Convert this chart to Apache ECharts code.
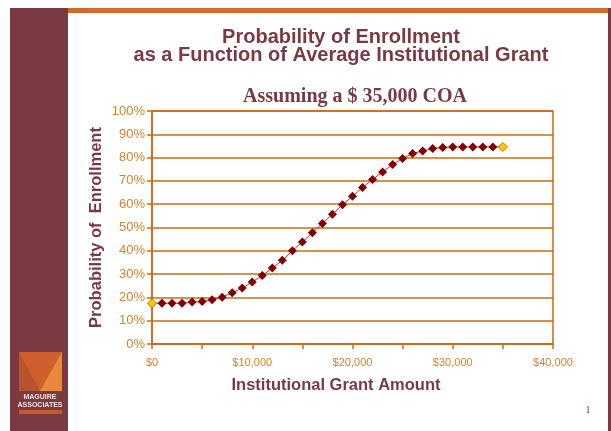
<!DOCTYPE html>
<html>
<head>
<meta charset="utf-8">
<script src="https://cdn.jsdelivr.net/npm/echarts@6/dist/echarts.min.js"></script>
<style>
  html, body { margin: 0; padding: 0; background: #ffffff; }
  #main { width: 611px; height: 431px; }
</style>
</head>
<body>
<div id="main"></div>
<script>
// grant amounts ($) and probability of enrollment (%)
var grant = [0, 1000, 2000, 3000, 4000, 5000, 6000, 7000, 8000, 9000,
  10000, 11000, 12000, 13000, 14000, 15000, 16000, 17000, 18000, 19000,
  20000, 21000, 22000, 23000, 24000, 25000, 26000, 27000, 28000, 29000,
  30000, 31000, 32000, 33000, 34000, 35000]
var probability = [17.5, 17.5, 17.5, 17.5, 18.0, 18.2, 19.0, 20.1, 22.0, 24.0,
  26.6, 29.4, 32.6, 35.9, 40.0, 43.8, 47.8, 51.7, 55.7, 59.8,
  63.4, 67.2, 70.6, 73.8, 77.0, 79.6, 81.8, 82.8, 83.9, 84.3,
  84.6, 84.6, 84.6, 84.6, 84.6, 84.6]
var xTicks = [0, 10000, 20000, 30000, 40000]

var maroon = '#7b3942'
var orange = '#cc6a12'
var labelOrange = '#d9822b'

var points = grant.map(function (g, i) {
  var p = { value: [g, probability[i]] }
  // first and last points are highlighted in gold
  if (i === 0 || i === grant.length - 1) {
    p.itemStyle = { color: '#ffcc00', borderColor: '#cc6600', borderWidth: 1 }
  }
  return p
})

var myChart = echarts.init(document.getElementById('main'))
var option = {
  backgroundColor: '#ffffff',
  animation: false,
  grid: {
    left: 152, right: 58, top: 111, bottom: 87,
    show: true, borderColor: orange, borderWidth: 1.5
  },
  graphic: [
    // left bar, top bar, right edge
    { type: 'rect', shape: { x: 10, y: 8, width: 58, height: 423 }, style: { fill: maroon } },
    { type: 'rect', shape: { x: 68, y: 8, width: 541, height: 5 }, style: { fill: '#d26a30' } },
    { type: 'rect', shape: { x: 608, y: 8, width: 3, height: 423 }, style: { fill: maroon } },
    // logo
    { type: 'rect', shape: { x: 19, y: 352, width: 43, height: 39 }, style: { fill: '#cf5f2c' } },
    { type: 'polygon', shape: { points: [[19, 352], [40, 391], [19, 391]] }, style: { fill: '#b9532c' } },
    { type: 'polygon', shape: { points: [[62, 352], [62, 391], [40, 391]] }, style: { fill: '#e8893a' } },
    { type: 'text', style: { x: 40, y: 397, text: 'MAGUIRE', fill: '#eee4e4', font: 'bold 7px "Liberation Sans"', textAlign: 'center', textVerticalAlign: 'middle' } },
    { type: 'text', style: { x: 40, y: 405, text: 'ASSOCIATES', fill: '#eee4e4', font: 'bold 7px "Liberation Sans Narrow", "Liberation Sans"', textAlign: 'center', textVerticalAlign: 'middle' } },
    { type: 'rect', shape: { x: 19, y: 410, width: 43, height: 4 }, style: { fill: '#c85a2c' } },
    // titles
    { type: 'text', style: { x: 341, y: 37, text: 'Probability of Enrollment', fill: maroon, font: 'bold 20px "Liberation Sans"', textAlign: 'center', textVerticalAlign: 'middle' } },
    { type: 'text', style: { x: 341, y: 55, text: 'as a Function of Average Institutional Grant', fill: maroon, font: 'bold 20px "Liberation Sans"', textAlign: 'center', textVerticalAlign: 'middle' } },
    { type: 'text', style: { x: 355, y: 97, text: 'Assuming a $ 35,000 COA', fill: maroon, font: 'bold 20px "Liberation Serif"', textAlign: 'center', textVerticalAlign: 'middle' } },
    { type: 'text', style: { x: 336, y: 385, text: 'Institutional Grant Amount', fill: maroon, font: 'bold 16.5px "Liberation Sans"', textAlign: 'center', textVerticalAlign: 'middle' } },
    { type: 'text', style: { x: 588, y: 410, text: '1', fill: maroon, font: '10px "Liberation Serif"', textAlign: 'center', textVerticalAlign: 'middle' } }
  ],
  xAxis: {
    type: 'value',
    min: 0, max: 40000, interval: 5000,
    axisLine: { lineStyle: { color: orange, width: 1.5 } },
    axisTick: { inside: false, length: 5, lineStyle: { color: orange, width: 1.5 } },
    axisLabel: {
      color: labelOrange, fontSize: 11, fontFamily: 'Liberation Sans', margin: 13,
      formatter: function (v) {
        if (xTicks.indexOf(v) < 0) return ''
        return '$' + v.toLocaleString('en-US')
      }
    },
    splitLine: { show: false }
  },
  yAxis: {
    type: 'value',
    min: 0, max: 100, interval: 10,
    name: 'Probability of  Enrollment',
    nameLocation: 'middle', nameGap: 47, nameMoveOverlap: false,
    nameTextStyle: { color: maroon, fontWeight: 'bold', fontSize: 16.5, fontFamily: 'Liberation Sans' },
    axisLine: { lineStyle: { color: orange, width: 1.5 } },
    axisTick: { length: 5, lineStyle: { color: orange, width: 1.5 } },
    axisLabel: { color: labelOrange, fontSize: 13, fontFamily: 'Liberation Sans', margin: 7, formatter: '{value}%' },
    splitLine: { lineStyle: { color: orange, width: 1.5 } }
  },
  series: [{
    type: 'line',
    data: points,
    symbol: 'diamond',
    symbolSize: 9,
    itemStyle: { color: '#800000' },
    lineStyle: { color: '#ff2020', width: 1 }
  }]
}
myChart.setOption(option)
</script>
</body>
</html>
